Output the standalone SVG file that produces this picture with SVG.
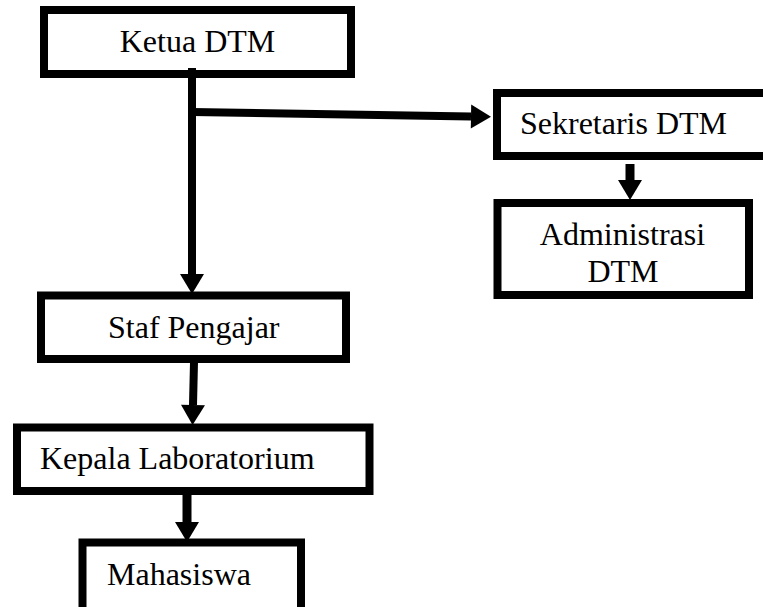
<svg xmlns="http://www.w3.org/2000/svg" width="763" height="607" viewBox="0 0 763 607">
<style>
.box{fill:#fff;stroke:#000;stroke-width:8}
text{font-family:'Liberation Serif','DejaVu Serif',serif;font-size:32px;fill:#000}
.con{stroke:#000;stroke-width:8;fill:none}
.con9{stroke:#000;stroke-width:9;fill:none}
</style>
<defs>
<marker id="ah" markerUnits="userSpaceOnUse" markerWidth="22" markerHeight="24" refX="0" refY="12" orient="auto" overflow="visible">
<path d="M0,0 L20,12 L0,24 Z" fill="#000"/>
</marker>
</defs>
<rect width="763" height="607" fill="#fff"/>
<g id="ketua"><rect class="box" x="44" y="10" width="307" height="64"/><text font-family="Liberation Serif, serif" x="197.5" y="52" text-anchor="middle">Ketua DTM</text></g>
<g id="sekretaris"><rect class="box" x="497" y="93" width="280" height="63"/><text font-family="Liberation Serif, serif" x="520" y="134">Sekretaris DTM</text></g>
<g id="administrasi"><rect class="box" x="497.5" y="203" width="251.5" height="92"/><text font-family="Liberation Serif, serif" x="622.5" y="245" text-anchor="middle">Administrasi</text><text font-family="Liberation Serif, serif" x="623" y="282" text-anchor="middle">DTM</text></g>
<g id="staf"><rect class="box" x="41" y="295.5" width="305" height="63.5"/><text font-family="Liberation Serif, serif" x="108" y="338">Staf Pengajar</text></g>
<g id="kepala"><rect class="box" x="17" y="427.5" width="352.5" height="63.5"/><text font-family="Liberation Serif, serif" x="40" y="469">Kepala Laboratorium</text></g>
<g id="mahasiswa"><rect class="box" x="82.5" y="542.5" width="218.5" height="80"/><text font-family="Liberation Serif, serif" x="107" y="585">Mahasiswa</text></g>
<g id="connectors">
<line class="con" x1="192" y1="68" x2="192" y2="274" marker-end="url(#ah)"/>
<line class="con" x1="192" y1="112" x2="471" y2="116.5" marker-end="url(#ah)"/>
<line class="con9" x1="630" y1="164" x2="630" y2="180" marker-end="url(#ah)"/>
<line class="con" x1="194" y1="362" x2="193" y2="405" marker-end="url(#ah)"/>
<line class="con9" x1="187" y1="494" x2="187" y2="522" marker-end="url(#ah)"/>
</g>
</svg>
